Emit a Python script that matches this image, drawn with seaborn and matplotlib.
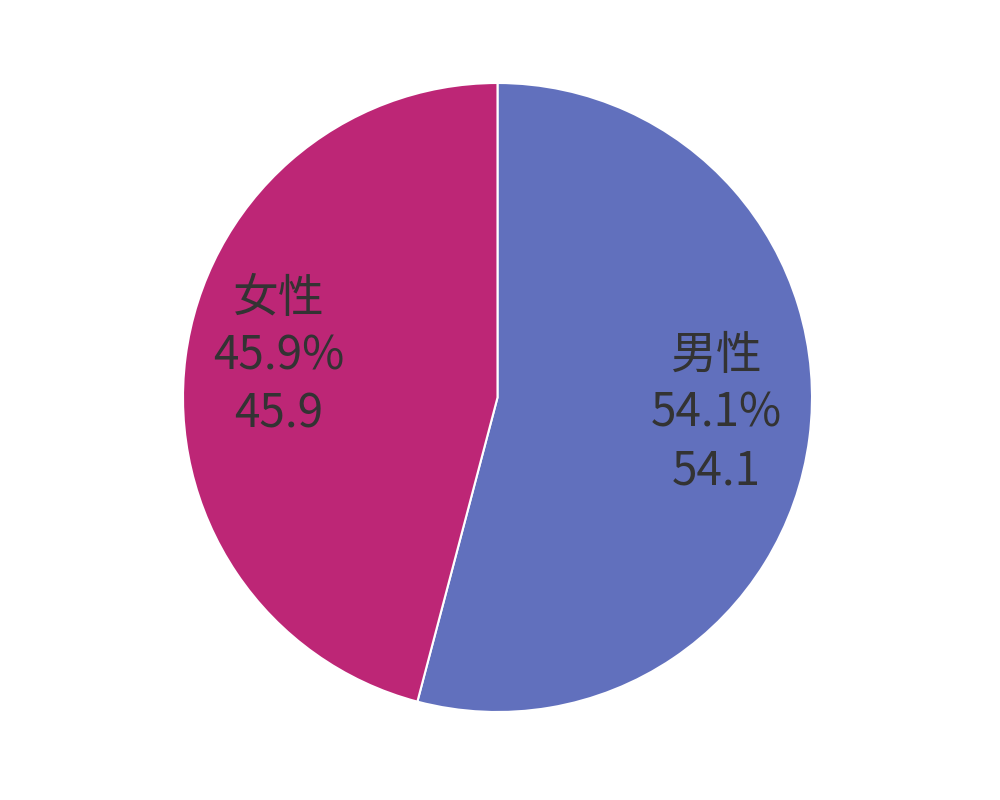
import numpy as np
import matplotlib
matplotlib.use("Agg")
import matplotlib.pyplot as plt
import seaborn as sns

# Gender share
categories = ["男性", "女性"]
values = [54.1, 45.9]
palette = ["#6170BD", "#BD2676"]

sns.set_style("white")
plt.rcParams["font.family"] = ["Noto Sans CJK SC", "DejaVu Sans"]
colors = sns.color_palette(palette)

fig = plt.figure(figsize=(10, 8), dpi=100)
ax = fig.add_axes([0, 0, 1, 1])

radius_px = 314.5
cx, cy = 497.5, 402.5  # pie centre in pixels from bottom-left
ax.pie(
    values,
    colors=colors,
    startangle=90,
    counterclock=False,
    radius=1.0,
    wedgeprops=dict(edgecolor="white", linewidth=1.5),
)
ax.set_xlim(-cx / radius_px, (1000 - cx) / radius_px)
ax.set_ylim(-cy / radius_px, (800 - cy) / radius_px)
ax.set_aspect("equal")
ax.axis("off")

total = sum(values)
start = 90.0
for name, v in zip(categories, values):
    sweep = 360.0 * v / total
    mid = np.deg2rad(start - sweep / 2)
    start -= sweep
    x, y = 0.7 * np.cos(mid), 0.7 * np.sin(mid)
    pct = 100.0 * v / total
    ax.annotate(
        f"{name}\n{pct:.1f}%\n{v:.1f}",
        xy=(x, y), xytext=(0, 9), textcoords="offset points",
        ha="center", va="center", fontsize=33, color="#333333",
        linespacing=1.24,
    )

fig.savefig("out.png", dpi=100)
